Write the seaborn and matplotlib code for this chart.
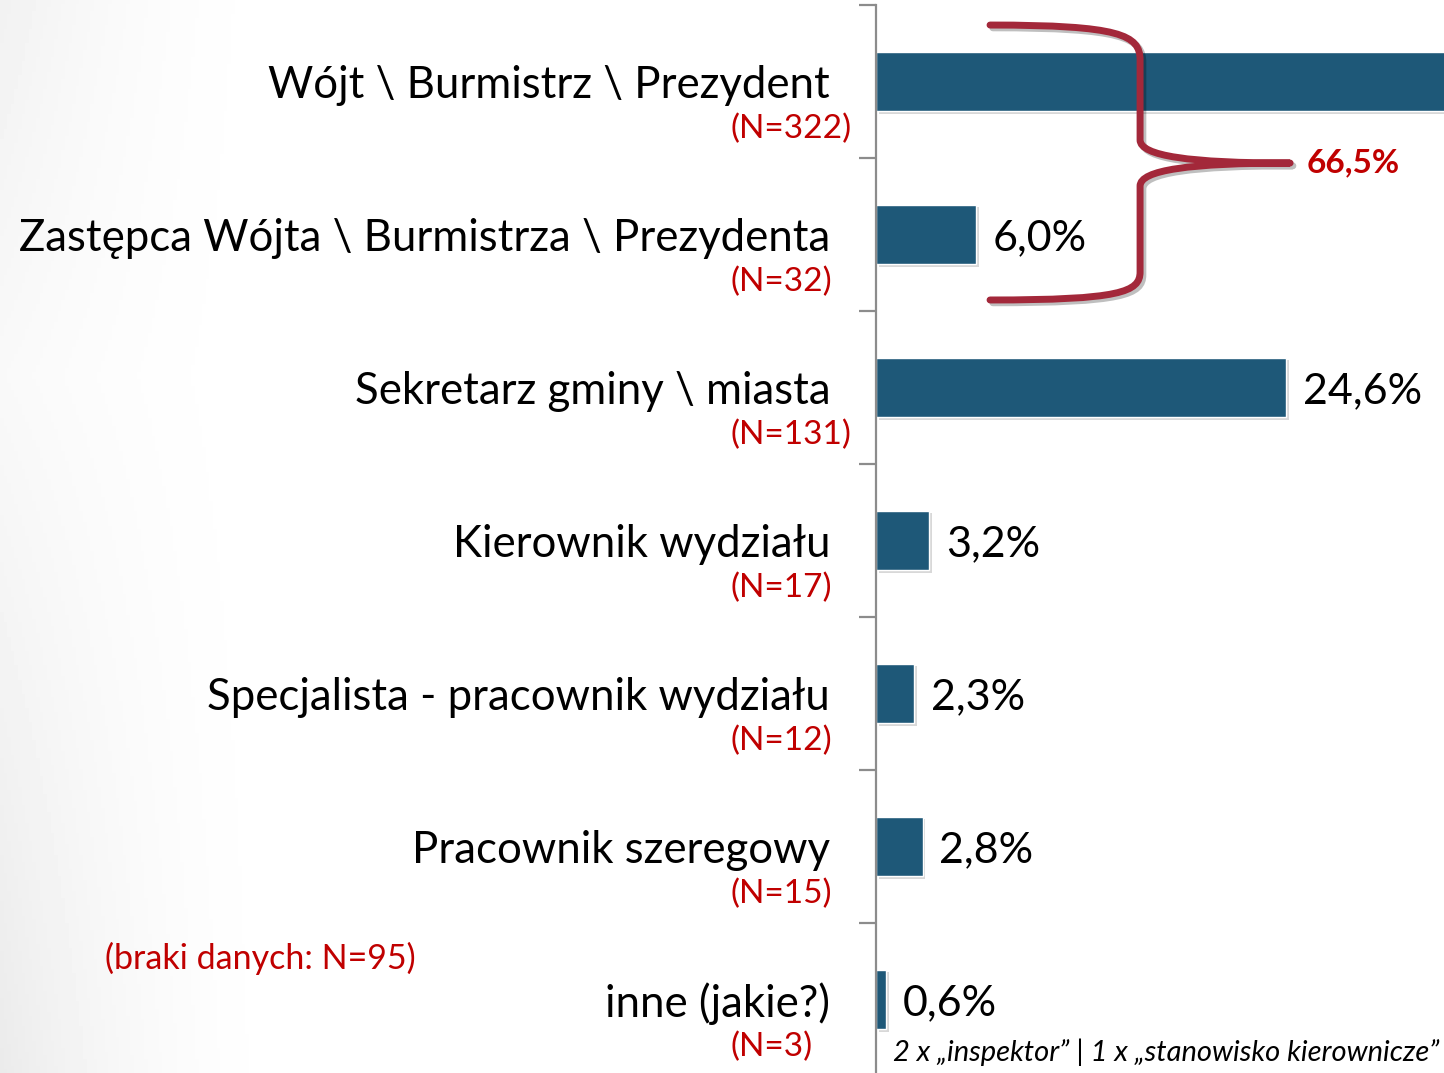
import numpy as np
import pandas as pd
import seaborn as sns
import matplotlib.pyplot as plt
from matplotlib.path import Path
from matplotlib.patches import PathPatch
import matplotlib.patheffects as pe

# dane
kategorie = ["Wójt \\ Burmistrz \\ Prezydent",
             "Zastępca Wójta \\ Burmistrza \\ Prezydenta",
             "Sekretarz gminy \\ miasta",
             "Kierownik wydziału",
             "Specjalista - pracownik wydziału",
             "Pracownik szeregowy",
             "inne (jakie?)"]
liczebnosci = [322, 32, 131, 17, 12, 15, 3]
procenty = [60.5, 6.0, 24.6, 3.2, 2.3, 2.8, 0.6]
braki = 95
inne_opis = "2 x „inspektor” | 1 x „stanowisko kierownicze”"

df = pd.DataFrame({"kategoria": kategorie, "proc": procenty, "n": liczebnosci})

sns.set_style("white")
plt.rcParams['font.family'] = ['Lato', 'DejaVu Sans']

NIEBIESKI = '#1E5878'
CZERWONY = '#C00000'
BORDO = '#A3283A'
SZARY = '#8C8C8C'

fig = plt.figure(figsize=(14.44, 10.73), dpi=100)

# delikatny szary gradient po lewej stronie tla
bg = fig.add_axes([0, 0, 1, 1], zorder=-10)
gx = np.linspace(0, 1, 400)
gy = np.linspace(0, 1, 300)
X, Y = np.meshgrid(gx, gy)
shade = np.clip(1 - X / 0.22, 0, 1) ** 2 * (0.3 + 0.7 * np.abs(Y - 0.35) / 0.65)
bg.imshow(1 - 0.08 * shade, cmap='gray', vmin=0, vmax=1, aspect='auto',
          extent=[0, 1, 0, 1], origin='upper')
bg.axis('off')

ax = fig.add_axes([876 / 1444, -3 / 1073, 568 / 1444, 1071 / 1073])
ax.patch.set_alpha(0)

sns.barplot(data=df, x="proc", y="kategoria", orient='h', color=NIEBIESKI,
            saturation=1, width=0.39, ax=ax)
for bar in ax.patches:
    bar.set_path_effects([pe.SimplePatchShadow(offset=(2, -2), shadow_rgbFace='gray', alpha=0.3),
                          pe.Normal()])

ax.set_xlim(0, 34.07)
ax.set_ylim(len(kategorie) - 0.5, -0.5)
ax.set_xlabel("")
ax.set_ylabel("")
ax.set_xticks([])

sns.despine(ax=ax, left=False, bottom=True, top=True, right=True)
ax.spines['left'].set_color(SZARY)
ax.spines['left'].set_linewidth(1.6)

ax.set_yticks(range(len(kategorie)))
ax.set_yticklabels(kategorie, fontsize=31.5, color='black')
ax.tick_params(axis='y', which='major', left=False, pad=29.5)
ax.set_yticks(np.arange(-0.5, len(kategorie), 1), minor=True)
ax.tick_params(axis='y', which='minor', left=True, direction='out',
               length=12, width=1.6, color=SZARY)

# etykiety N
for i, n in enumerate(liczebnosci):
    ax.annotate(f"(N={n})", xy=(0, i), xycoords=('axes fraction', 'data'),
                xytext=(-146, -47), textcoords='offset pixels',
                ha='left', va='center', fontsize=24, color=CZERWONY)

# etykiety wartosci
etykiety = ax.bar_label(ax.containers[0],
                        labels=[f"{v:.1f}".replace('.', ',') + '%' for v in procenty],
                        padding=12, fontsize=31, color='black')
for t in etykiety:
    t.set_va('center_baseline')

# klamra laczaca dwa pierwsze slupki
verts = [(6.84, -0.369),
         (14.64, -0.369), (15.84, -0.304), (15.84, -0.141),
         (15.84, 0.382),
         (15.84, 0.487), (18.84, 0.533), (24.84, 0.533),
         (18.84, 0.533), (15.84, 0.578), (15.84, 0.683),
         (15.84, 1.245),
         (15.84, 1.376), (14.64, 1.428), (6.84, 1.428)]
codes = [Path.MOVETO,
         Path.CURVE4, Path.CURVE4, Path.CURVE4,
         Path.LINETO,
         Path.CURVE4, Path.CURVE4, Path.CURVE4,
         Path.CURVE4, Path.CURVE4, Path.CURVE4,
         Path.LINETO,
         Path.CURVE4, Path.CURVE4, Path.CURVE4]
klamra = PathPatch(Path(verts, codes), facecolor='none', edgecolor=BORDO,
                   lw=5, capstyle='round', joinstyle='round', zorder=5)
klamra.set_path_effects([pe.SimpleLineShadow(offset=(2, -2), alpha=0.25), pe.Normal()])
ax.add_patch(klamra)
suma = procenty[0] + procenty[1]
ax.annotate(f"{suma:.1f}".replace('.', ',') + '%', xy=(24.84, 0.533), xycoords='data',
            xytext=(17, 0), textcoords='offset pixels', ha='left', va='center',
            fontsize=24, fontweight='bold', color=CZERWONY)

fig.text(105 / 1444, 1 - 958 / 1073, f"(braki danych: N={braki})",
         ha='left', va='center', fontsize=24.5, color=CZERWONY)
fig.text(893 / 1444, 1 - 1052 / 1073, inne_opis, ha='left', va='center',
         fontsize=21, style='italic', color='black')

fig.savefig("out.png", dpi=100)
